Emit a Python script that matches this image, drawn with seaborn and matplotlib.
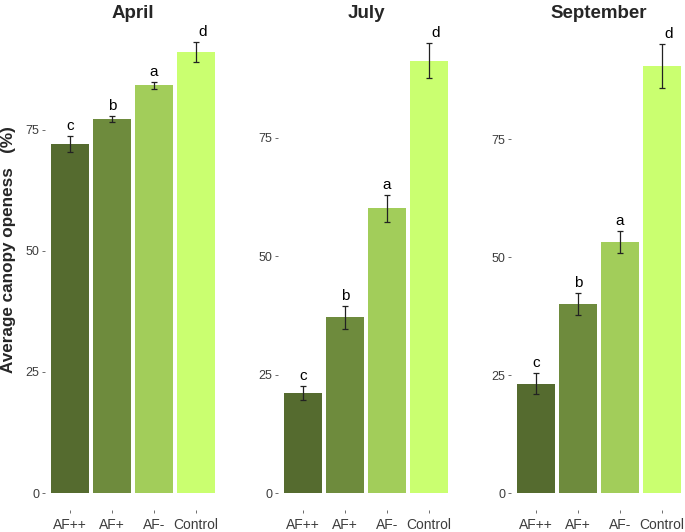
import matplotlib
matplotlib.use("Agg")
import matplotlib.pyplot as plt
import seaborn as sns
import pandas as pd

# treatments and months
treatments = ["AF++", "AF+", "AF-", "Control"]
months = ["April", "July", "September"]

# mean canopy openness (%) per month, in treatment order
april_mean = [72.0, 77.1, 84.1, 91.0]
july_mean = [21.2, 37.1, 60.1, 91.2]
september_mean = [23.2, 40.1, 53.2, 90.5]

# standard errors
april_se = [1.7, 0.6, 0.8, 2.0]
july_se = [1.4, 2.4, 2.8, 3.7]
september_se = [2.2, 2.3, 2.4, 4.7]

# significance letters
april_letters = ["c", "b", "a", "d"]
july_letters = ["c", "b", "a", "d"]
september_letters = ["c", "b", "a", "d"]

palette = {"AF++": "#556B2F", "AF+": "#6E8B3D", "AF-": "#A2CD5A", "Control": "#CAFF70"}

frames = []
for month, means, ses, letters in zip(
    months,
    [april_mean, july_mean, september_mean],
    [april_se, july_se, september_se],
    [april_letters, july_letters, september_letters],
):
    frames.append(pd.DataFrame({"month": month, "treatment": treatments,
                                "mean": means, "se": ses, "letter": letters}))
df = pd.concat(frames, ignore_index=True)

sns.set_style("white")
plt.rcParams["font.family"] = ["Liberation Sans", "DejaVu Sans"]

W, H = 685, 532
fig = plt.figure(figsize=(W / 100, H / 100), dpi=100)

# panel layout in pixels: left edges, width, bottom, height
lefts = [45, 278, 511]
pw, pb, ph = 176, 22, 488
ylims = {"April": (-3.5, 97.2), "July": (-3.5, 99.4), "September": (-3.6, 99.8)}
grey = "#3d3d3d"

for i, month in enumerate(months):
    ax = fig.add_axes([lefts[i] / W, pb / H, pw / W, ph / H])
    sub = df[df["month"] == month]
    sns.barplot(data=sub, x="treatment", y="mean", hue="treatment", order=treatments,
                hue_order=treatments, palette=palette, width=0.9, legend=False,
                edgecolor="none", saturation=1, ax=ax)
    ax.errorbar(range(len(sub)), sub["mean"], yerr=sub["se"], fmt="none",
                ecolor="#222222", elinewidth=0.9, capsize=2.5, capthick=0.9)
    for j, row in enumerate(sub.itertuples()):
        dx = 7 if row.treatment == "Control" else 0
        ax.annotate(row.letter, (j, row.mean + row.se), xytext=(dx, 10),
                    textcoords="offset pixels", ha="center", va="center",
                    fontsize=11, color="black")
    ax.set_xlim(-0.6, 3.6)
    ax.set_ylim(*ylims[month])
    ax.set_yticks([0, 25, 50, 75])
    ax.set_xlabel("")
    ax.set_ylabel("")
    ax.set_title(month, fontsize=13.5, fontweight="bold", pad=3)
    for s in ax.spines.values():
        s.set_visible(False)
    ax.tick_params(axis="both", colors="#333333", labelcolor=grey, length=2.5,
                   width=0.5, labelsize=9, left=True, bottom=True, pad=1.5)
    ax.tick_params(axis="x", labelsize=10, pad=3)

fig.text(9 / W, 1 - 250 / H, "Average canopy openess   (%)", rotation=90,
         ha="center", va="center", fontsize=12.3, fontweight="bold")

fig.savefig("out.png", dpi=100)
